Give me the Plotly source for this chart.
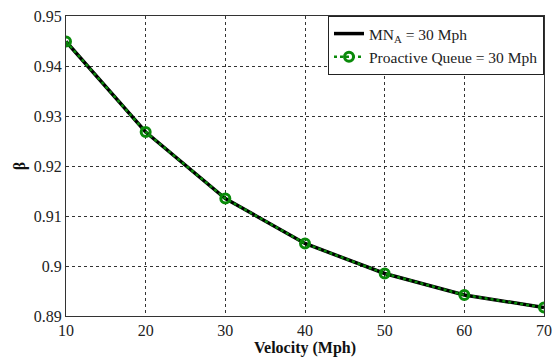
import plotly.graph_objects as go

velocity = [10, 20, 30, 40, 50, 60, 70]
beta_mn = [0.9449, 0.9268, 0.9135, 0.9045, 0.8985, 0.8942, 0.8917]
beta_pq = [0.9449, 0.9268, 0.9135, 0.9045, 0.8985, 0.8942, 0.8917]
x_ticks = [10, 20, 30, 40, 50, 60, 70]
y_ticks = [0.89, 0.90, 0.91, 0.92, 0.93, 0.94, 0.95]
y_labels = ["0.89", "0.9", "0.91", "0.92", "0.93", "0.94", "0.95"]

FONT = "Liberation Serif"

fig = go.Figure()
fig.add_trace(go.Scatter(
    x=velocity, y=beta_mn, mode="lines", name="MN<sub>A</sub> = 30 Mph",
    line=dict(color="black", width=3.5),
))
fig.add_trace(go.Scatter(
    x=velocity, y=beta_pq, mode="lines+markers", name="Proactive Queue = 30 Mph",
    line=dict(color="#0a8a0a", width=2.5, dash="dot"),
    marker=dict(symbol="circle-open", size=9, color="#0a8a0a", line=dict(width=3, color="#0a8a0a")),
))

fig.update_layout(
    width=560, height=358,
    margin=dict(l=66, r=8, t=15, b=40),
    paper_bgcolor="white", plot_bgcolor="white",
    font=dict(family=FONT, size=16, color="#222"),
    showlegend=True,
    legend=dict(
        x=1, y=1, xanchor="right", yanchor="top",
        bgcolor="white", bordercolor="#222", borderwidth=1,
        font=dict(family=FONT, size=15.5, color="#222"),
        tracegroupgap=0, itemwidth=30,
    ),
)
fig.update_xaxes(
    range=[10, 70], tickvals=x_ticks, ticktext=[str(v) for v in x_ticks],
    tickfont=dict(family=FONT, size=16, color="#222"),
    showgrid=True, gridcolor="#333", griddash="dot", gridwidth=1,
    showline=True, linecolor="#333", linewidth=1, mirror=True,
    ticks="", zeroline=False,
    title=dict(text="<b>Velocity (Mph)</b>", font=dict(family=FONT, size=16, color="#111"), standoff=0),
)
fig.update_yaxes(
    range=[0.89, 0.95], tickvals=y_ticks, ticktext=y_labels,
    tickfont=dict(family=FONT, size=16, color="#222"),
    showgrid=True, gridcolor="#333", griddash="dot", gridwidth=1,
    showline=True, linecolor="#333", linewidth=1, mirror=True,
    ticks="", zeroline=False,
    title=dict(text="<b>β</b>", font=dict(family=FONT, size=16, color="#111"), standoff=4),
)

fig.write_html("out.html")
